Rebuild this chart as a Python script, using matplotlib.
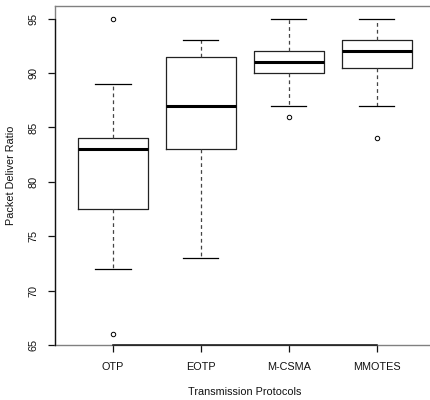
import matplotlib
matplotlib.use("Agg")
import matplotlib.pyplot as plt

protocols = ["OTP", "EOTP", "M-CSMA", "MMOTES"]
whisker_lo = [72, 73, 87, 87]
q1 = [77.5, 83, 90, 90.5]
med = [83, 87, 91, 92]
q3 = [84, 91.5, 92, 93]
whisker_hi = [89, 93, 95, 95]
outliers = [[95, 66], [], [86], [84]]

yticks = [65, 70, 75, 80, 85, 90, 95]

plt.rcParams.update({"font.family": "Liberation Sans", "font.size": 7.8})

fig = plt.figure(figsize=(4.31, 4.0), dpi=100)
# plot region: left 55px, top 5.7px, bottom 345px, right runs past the canvas
ax = fig.add_axes([55 / 431, 55 / 400, 405 / 431, 339.3 / 400])

stats = []
for i, name in enumerate(protocols):
    stats.append(dict(label=name, whislo=whisker_lo[i], q1=q1[i], med=med[i],
                      q3=q3[i], whishi=whisker_hi[i], fliers=outliers[i]))

ax.bxp(stats, positions=range(1, len(protocols) + 1), widths=0.8,
       boxprops=dict(color="#222222", lw=0.9),
       medianprops=dict(color="black", lw=2.2, solid_capstyle="butt"),
       whiskerprops=dict(color="#444444", lw=0.9, ls=(0, (3, 2.5))),
       capprops=dict(color="black", lw=0.9),
       capwidths=0.4,
       flierprops=dict(marker="o", markerfacecolor="none", markeredgecolor="black",
                       markersize=3.2, markeredgewidth=0.7))

ax.set_xlim(0.34, 4.948)
ax.set_ylim(65, 96.2)
ax.set_yticks(yticks)
ax.set_yticklabels([str(v) for v in yticks], rotation=90, va="center")
ax.set_xticks(range(1, len(protocols) + 1))
ax.set_xticklabels(protocols)

for s in ax.spines.values():
    s.set_color("#808080")
    s.set_linewidth(1.0)
ax.spines["right"].set_visible(False)
# R-style axis lines, first tick to last tick
ax.plot([0.34, 0.34], [65, 95], color="#111111", lw=0.9, clip_on=False, zorder=5)
ax.plot([1, 4], [65, 65], color="#111111", lw=1.1, clip_on=False, zorder=5)

ax.tick_params(axis="both", direction="out", length=5, width=0.9, color="#111111",
               labelcolor="#111111")
ax.tick_params(axis="y", pad=7)
ax.tick_params(axis="x", pad=7)

ax.xaxis.set_label_coords(245 / 431, 0, transform=fig.transFigure)
ax.xaxis.label.set_position((245 / 431, 8 / 400))
ax.set_xlabel("Transmission Protocols", color="#111111")
ax.xaxis.set_label_coords(245 / 431, 8 / 400, transform=fig.transFigure)
ax.xaxis.label.set_verticalalignment("center")
ax.set_ylabel("Packet Deliver Ratio", labelpad=9, color="#111111")

fig.savefig("out.png", dpi=100)
